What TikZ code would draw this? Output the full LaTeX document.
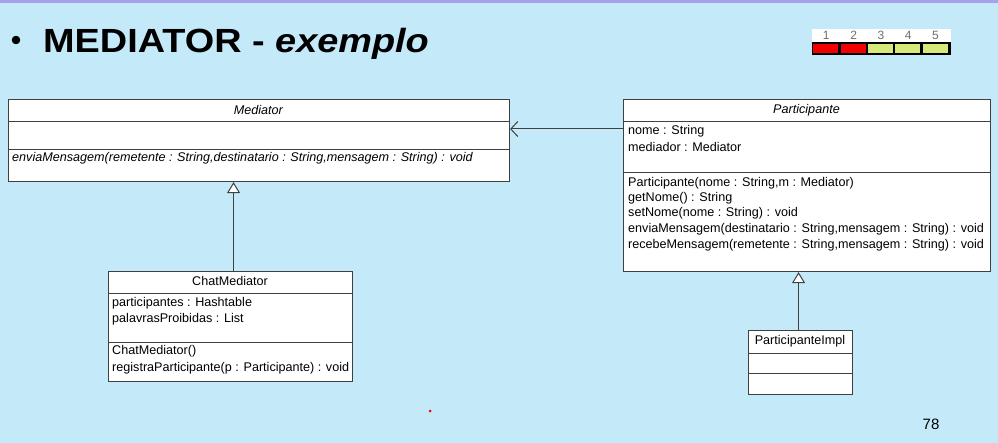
\documentclass[tikz,border=0pt]{standalone}
\usepackage{fontspec}
\setmainfont{Liberation Sans}
\usetikzlibrary{arrows.meta}
\definecolor{slidebg}{RGB}{196,234,249}
\definecolor{slidetop}{RGB}{168,160,232}
\definecolor{boxline}{RGB}{64,64,64}
\definecolor{rateRed}{RGB}{240,0,0}
\definecolor{rateLime}{RGB}{214,232,122}
\definecolor{rateDigit}{RGB}{110,110,110}

\begin{document}
\begin{tikzpicture}[x=1pt,y=-1pt,
    umlbox/.style={draw=boxline, line width=1.1pt, fill=white, anchor=north west, inner sep=0pt},
    umltxt/.style={anchor=west, inner sep=0pt, font=\fontsize{12.6}{14}\selectfont},
    umlname/.style={inner sep=0pt, font=\fontsize{12.6}{14}\selectfont},
    sep/.style={draw=boxline, line width=0.8pt},
    inherit/.style={draw=boxline, line width=1pt, -{Triangle[open, length=11pt, width=13pt, fill=white]}},
    assoc/.style={draw=boxline, line width=1pt, -{Straight Barb[length=7pt, width=15pt]}}]
        \fill[slidebg] (0,0) rectangle (998,443);
        \fill[slidetop] (0,0) rectangle (998,3);
        \useasboundingbox (0,0) rectangle (998,443);

        \fill (16,40) circle (4.3);
        \node[anchor=base west, inner sep=0pt, font=\fontsize{33.5}{36}\selectfont\bfseries] (title) at (43,52.3) {\scalebox{1.13}[1]{MEDIATOR - \textit{exemplo}}};

        \fill[white] (812,29) rectangle (951,43);
        \fill[black] (812,42) rectangle (951,55);
        \foreach \i/\c in {1/rateRed,2/rateRed,3/rateLime,4/rateLime,5/rateLime} {
            \fill[\c] (786+27.3*\i,44) rectangle (811+27.3*\i,53);
            \node[inner sep=0pt, text=rateDigit, font=\fontsize{12}{13}\selectfont] (digit\i) at (799+27.3*\i,35.5) {\i};
        }

        \node[umlbox, minimum width=501pt, minimum height=82pt] (med) at (8,99) {};
        \draw[sep] (8,121) -- (509,121);
        \draw[sep] (8,149) -- (509,149);
        \node[umlname] (medname) at (258.5,110) {\textit{Mediator}};
        \node[umltxt] (medop) at (12,158) {\textit{enviaMensagem(remetente : String,destinatario : String,mensagem : String) : void}};

        \node[umlbox, minimum width=367pt, minimum height=172pt] (part) at (623,99) {};
        \draw[sep] (623,121) -- (990,121);
        \draw[sep] (623,172) -- (990,172);
        \node[umlname] (partname) at (806.5,110) {\textit{Participante}};
        \node[umltxt] (partnome) at (628,131) {nome : String};
        \node[umltxt] (partmed) at (628,147) {mediador : Mediator};
        \node[umltxt] (partop1) at (628,183) {Participante(nome : String,m : Mediator)};
        \node[umltxt] (partop2) at (628,198) {getNome() : String};
        \node[umltxt] (partop3) at (628,213.5) {setNome(nome : String) : void};
        \node[umltxt] (partop4) at (628,229) {enviaMensagem(destinatario : String,mensagem : String) : void};
        \node[umltxt] (partop5) at (628,245) {recebeMensagem(remetente : String,mensagem : String) : void};

        \node[umlbox, minimum width=244pt, minimum height=110pt] (chat) at (108,271) {};
        \draw[sep] (108,293) -- (352,293);
        \draw[sep] (108,342) -- (352,342);
        \node[umlname] (chatname) at (230,281) {ChatMediator};
        \node[umltxt] (chatpart) at (112,303) {participantes : Hashtable};
        \node[umltxt] (chatpal) at (112,319) {palavrasProibidas : List};
        \node[umltxt] (chatop1) at (112,351) {ChatMediator()};
        \node[umltxt] (chatop2) at (112,368) {registraParticipante(p : Participante) : void};

        \node[umlbox, minimum width=104pt, minimum height=64pt] (impl) at (748,330) {};
        \draw[sep] (748,353) -- (852,353);
        \draw[sep] (748,373) -- (852,373);
        \node[umlname] (implname) at (800,341) {ParticipanteImpl};

        \coordinate (link) at (623,129);
        \draw[assoc] (link) -- (link -| med.east);
        \draw[inherit] ([xshift=3pt]chat.north) -- ([xshift=3pt]chat.north |- med.south);
        \draw[inherit] ([xshift=-2pt]impl.north) -- ([xshift=-2pt]impl.north |- part.south);

        \fill[red] (430,411) circle (1.5);
        \node[inner sep=0pt, font=\fontsize{15}{16}\selectfont] (pagenum) at (931,424) {78};
      \end{tikzpicture}
\end{document}
